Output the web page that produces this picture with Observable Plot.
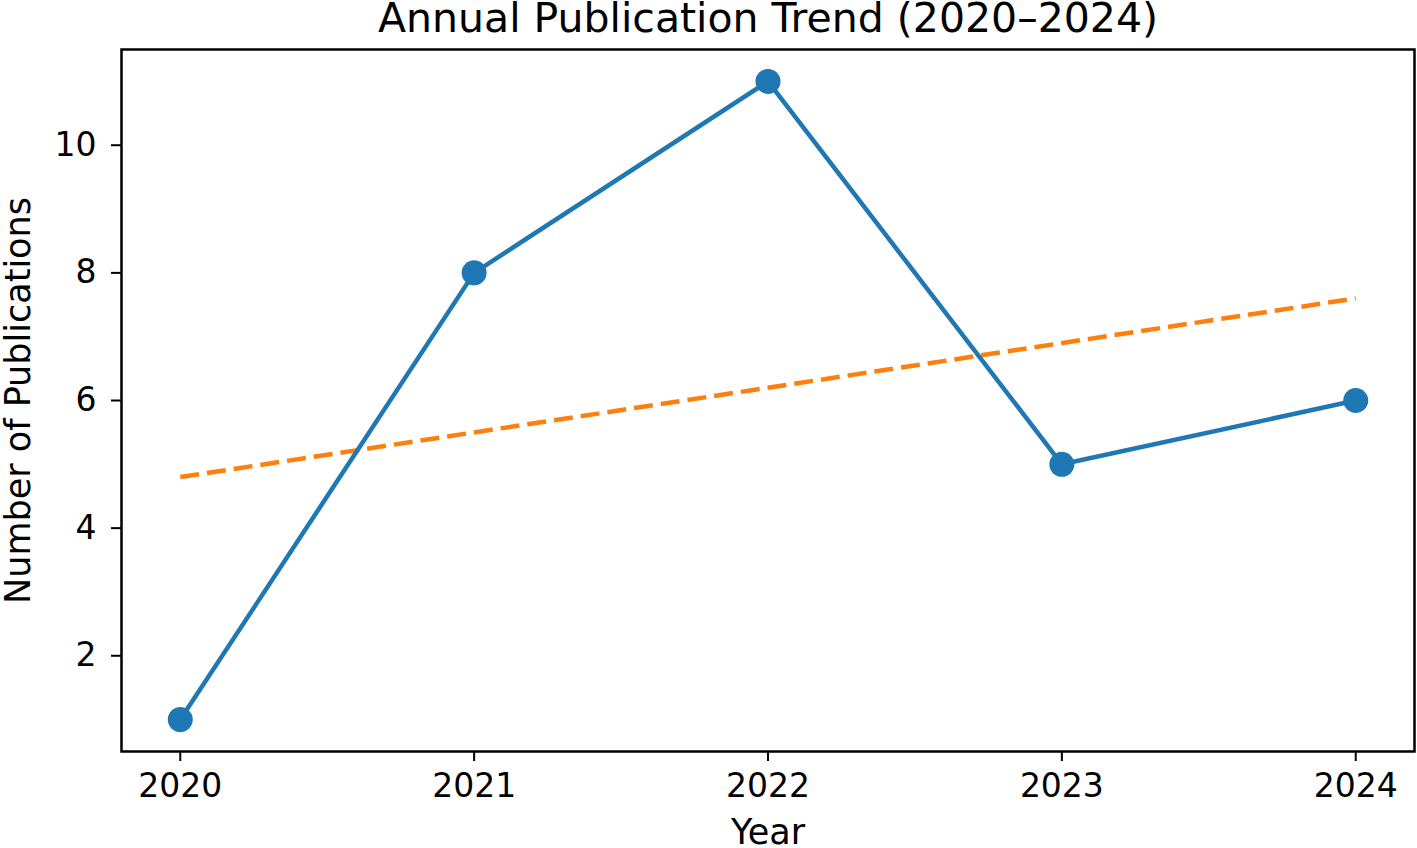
<!DOCTYPE html>
<html>
<head>
<meta charset="utf-8">
<script src="https://cdn.jsdelivr.net/npm/d3@7"></script>
<script src="https://cdn.jsdelivr.net/npm/@observablehq/plot@0.6"></script>
<style>
  html, body { margin: 0; padding: 0; background: #fff; }
  svg { display: block; }
</style>
</head>
<body>
<div id="chart"></div>
<script>
const years = [2020, 2021, 2022, 2023, 2024];
const publications = [1, 8, 11, 5, 6];
const trendYears = [2020, 2024];
const trendValues = [4.8, 7.6];
const yTicks = [2, 4, 6, 8, 10];
const title = "Annual Publication Trend (2020–2024)";
const xLabel = "Year";
const yLabel = "Number of Publications";

const data = years.map((y, i) => ({year: y, count: publications[i]}));
const trend = trendYears.map((y, i) => ({year: y, value: trendValues[i]}));

const chart = Plot.plot({
  width: 1417,
  height: 848,
  marginLeft: 121,
  marginRight: 3,
  marginTop: 49,
  marginBottom: 97,
  style: {fontFamily: "DejaVu Sans", background: "#fff", color: "#000"},
  x: {domain: [2019.8, 2024.2]},
  y: {domain: [0.5, 11.5]},
  marks: [
    Plot.line(trend, {x: "year", y: "value", stroke: "#ff7f0e", strokeWidth: 4.5, strokeDasharray: "19,8", strokeLinecap: "butt"}),
    Plot.line(data, {x: "year", y: "count", stroke: "#1f77b4", strokeWidth: 4.5}),
    Plot.dot(data, {x: "year", y: "count", r: 12.5, fill: "#1f77b4", stroke: "none"}),
    Plot.frame({stroke: "#000", strokeWidth: 2.5}),
    Plot.axisX({ticks: years, tickFormat: "d", tickSize: 10, tickPadding: 12, fontSize: 33, label: null, strokeWidth: 2}),
    Plot.axisY({ticks: yTicks, tickSize: 10, tickPadding: 15, fontSize: 33, label: null, strokeWidth: 2}),
    Plot.text([xLabel], {frameAnchor: "bottom", dy: 81, fontSize: 35, textAnchor: "middle", lineAnchor: "middle"}),
    Plot.text([yLabel], {frameAnchor: "left", dx: -103, fontSize: 35, rotate: -90, textAnchor: "middle", lineAnchor: "middle"}),
    Plot.text([title], {frameAnchor: "top", dy: -31, fontSize: 41, textAnchor: "middle", lineAnchor: "middle"})
  ]
});
document.getElementById("chart").appendChild(chart);
</script>
</body>
</html>
